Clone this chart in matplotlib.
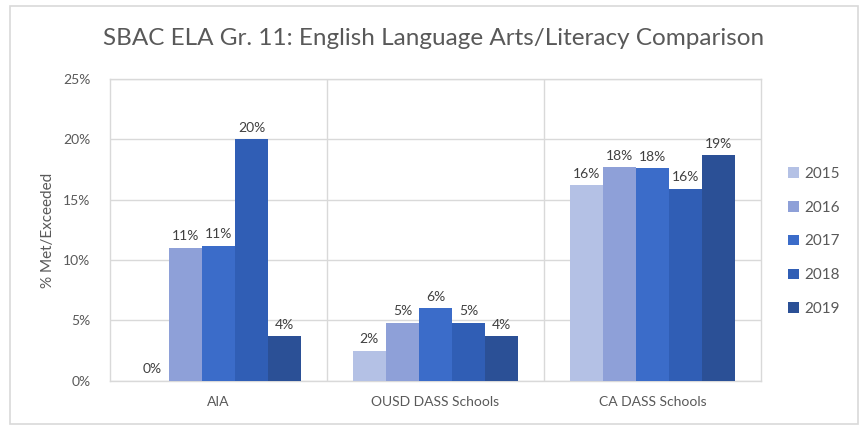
import numpy as np
import matplotlib
matplotlib.use("Agg")
from matplotlib import pyplot as plt
from matplotlib.patches import Rectangle

plt.rcParams['font.family'] = ['Lato', 'DejaVu Sans']

#%% data
groups = ["AIA", "OUSD DASS Schools", "CA DASS Schools"]
years = ["2015", "2016", "2017", "2018", "2019"]
v2015 = [0.0, 2.5, 16.2]
v2016 = [11.0, 4.8, 17.7]
v2017 = [11.2, 6.0, 17.6]
v2018 = [20.0, 4.8, 15.9]
v2019 = [3.7, 3.7, 18.7]
series = [v2015, v2016, v2017, v2018, v2019]
colors = ["#B4C1E5", "#8EA0D8", "#3B6CC9", "#305EB5", "#2B5096"]

grid_c = "#D9D9D9"
txt_c = "#595959"

#%% plot
fig = plt.figure(figsize=(8.59, 4.25), dpi=100)
ax = fig.add_axes([0.128, 0.104, 0.758, 0.71])

x = np.arange(len(groups))
w = 0.763 / len(years)
for i, (yr, vals) in enumerate(zip(years, series)):
    pos = x + (i - 2) * w
    ax.bar(pos, vals, width=w, color=colors[i], label=yr, zorder=3)
    for px, v in zip(pos, vals):
        ax.annotate("%d%%" % round(v), (px, v), xytext=(0, 4), textcoords="offset points",
                    ha="center", va="bottom", fontsize=10, color="#404040", zorder=4)

ax.set_xlim(-0.5, 2.5)
ax.set_ylim(0, 25)
ax.set_yticks(np.arange(0, 26, 5))
ax.set_yticklabels(["%d%%" % t for t in range(0, 26, 5)])
ax.set_xticks(x)
ax.set_xticklabels(groups)
ax.tick_params(length=0, colors=txt_c, labelsize=10)
ax.tick_params(axis='y', pad=14)
ax.tick_params(axis='x', pad=11)
ax.grid(axis='y', color=grid_c, lw=1, zorder=0)
for b in [0.5, 1.5]:
    ax.axvline(b, color=grid_c, lw=1, zorder=0)
for s in ax.spines.values():
    s.set_color(grid_c)
    s.set_linewidth(1)

ax.set_ylabel("% Met/Exceeded", color=txt_c, fontsize=11, labelpad=6)

fig.suptitle("SBAC ELA Gr. 11: English Language Arts/Literacy Comparison",
             x=0.505, y=0.935, fontsize=17.5, color=txt_c)

leg = ax.legend(loc="upper left", bbox_to_anchor=(1.02, 0.755), frameon=False,
                fontsize=11, labelcolor=txt_c, handlelength=0.7, handleheight=0.7,
                handletextpad=0.4, labelspacing=1.3)

# outer chart frame
fig.patches.append(Rectangle((0.012, 0.002), 0.987, 0.984, transform=fig.transFigure,
                             fill=False, edgecolor="#D9D9D9", lw=1.2))

fig.savefig("out.png", dpi=100)
